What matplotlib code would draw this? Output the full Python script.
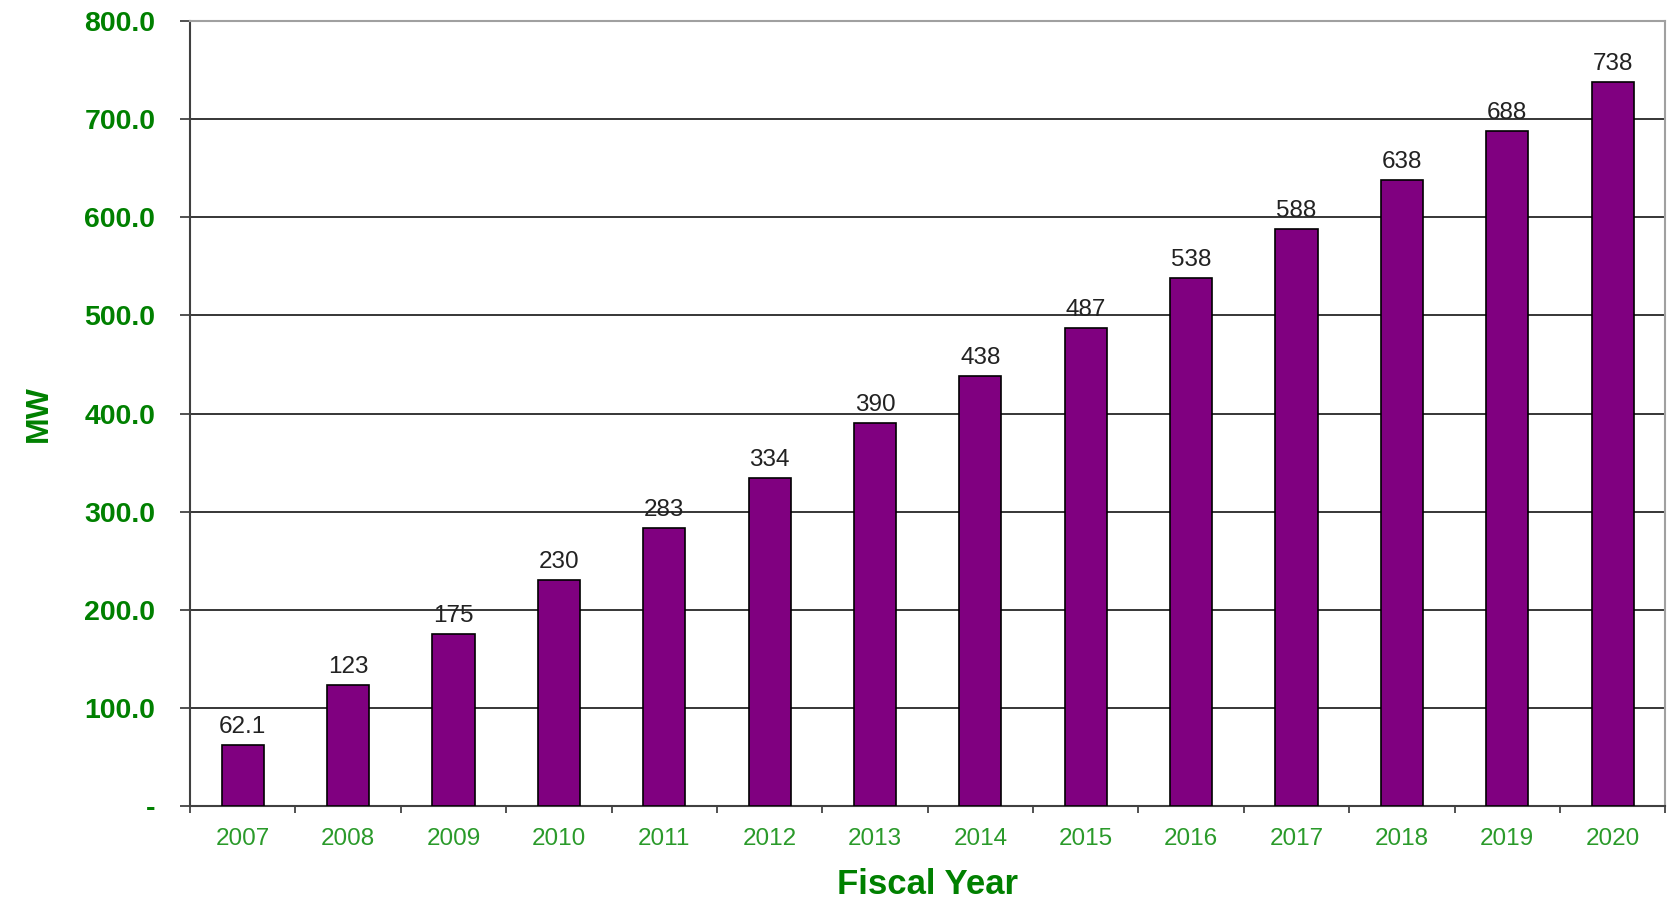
import matplotlib
matplotlib.use("Agg")
import matplotlib.pyplot as plt
from matplotlib.ticker import FuncFormatter, FixedLocator

years = ["2007", "2008", "2009", "2010", "2011", "2012", "2013",
         "2014", "2015", "2016", "2017", "2018", "2019", "2020"]
mw = [62.1, 123, 175, 230, 283, 334, 390, 438, 487, 538, 588, 638, 688, 738]
value_labels = ["62.1", "123", "175", "230", "283", "334", "390",
                "438", "487", "538", "588", "638", "688", "738"]
y_ticks = [0, 100, 200, 300, 400, 500, 600, 700, 800]

plt.rcParams["font.family"] = ["Liberation Sans", "DejaVu Sans"]

fig = plt.figure(figsize=(16.68, 8.98), dpi=100)
ax = fig.add_axes([0.1139, 0.1024, 0.8845, 0.8742])

x = list(range(len(years)))
ax.bar(x, mw, width=0.4, color="#800080", edgecolor="black", linewidth=1.2, zorder=3)

# value labels above each bar
for xi, v, lab in zip(x, mw, value_labels):
    ax.annotate(lab, (xi, v), xytext=(0, 5), textcoords="offset points",
                ha="center", va="bottom", fontsize=17.5, color="#222222", zorder=4)

ax.set_xlim(-0.5, len(years) - 0.5)
ax.set_ylim(0, 800)
ax.set_yticks(y_ticks)
ax.yaxis.set_major_formatter(FuncFormatter(lambda v, p: "-" if v == 0 else f"{v:.1f}"))
for v in y_ticks[1:-1]:
    ax.axhline(v, color="black", linewidth=1.1, zorder=1)

ax.set_xticks(x)
ax.set_xticklabels(years)
ax.xaxis.set_minor_locator(FixedLocator([i - 0.5 for i in range(len(years) + 1)]))
ax.tick_params(axis="x", which="major", length=0, pad=16, labelsize=17.5, labelcolor="#2a9a2a")
ax.tick_params(axis="x", which="minor", length=5, width=1.2, color="#333333", direction="out")
ax.tick_params(axis="y", length=7, width=1.2, color="#333333", pad=18, labelsize=20.5,
               labelcolor="#008000")
for lab in ax.get_yticklabels():
    lab.set_fontweight("bold")

ax.spines["left"].set_color("#404040")
ax.spines["left"].set_linewidth(1.5)
ax.spines["bottom"].set_color("#404040")
ax.spines["bottom"].set_linewidth(1.5)
ax.spines["top"].set_color("#a0a0a0")
ax.spines["top"].set_linewidth(1.5)
ax.spines["right"].set_color("#a0a0a0")
ax.spines["right"].set_linewidth(1.5)

ax.set_xlabel("Fiscal Year", fontsize=25, fontweight="bold", color="#008000", labelpad=13)
ax.set_ylabel("MW", fontsize=23, fontweight="bold", color="#008000", labelpad=22)

fig.savefig("out.png", dpi=100)
